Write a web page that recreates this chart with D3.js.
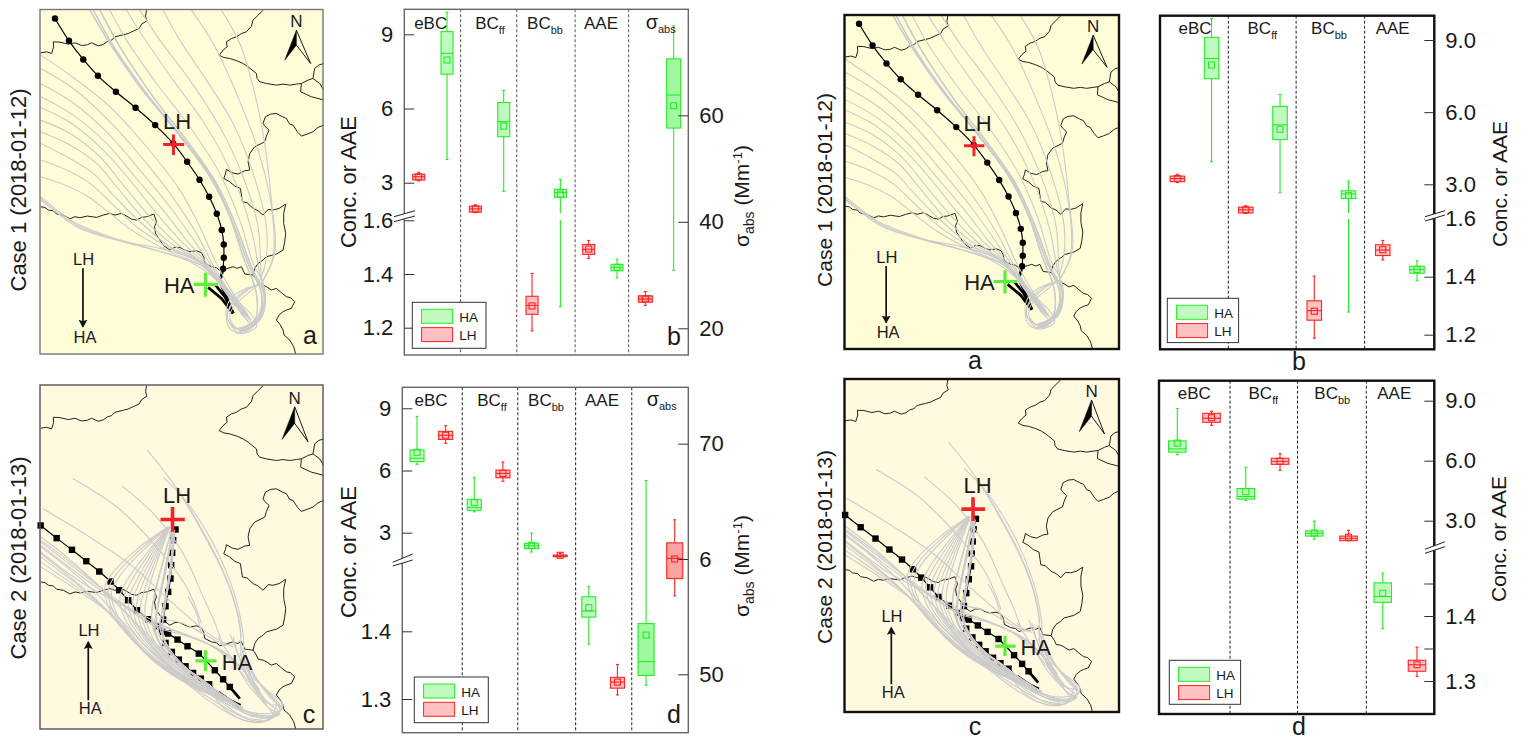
<!DOCTYPE html>
<html>
<head>
<meta charset="utf-8">
<script src="https://cdnjs.cloudflare.com/ajax/libs/d3/7.8.5/d3.min.js"></script>
<style>
	html, body { margin: 0; padding: 0; background: #fff; }
	svg { display: block; }
	text { font-family: "Liberation Sans", Arial, sans-serif; fill: #1a1a1a; }
</style>
</head>
<body>
<div id="chart"></div>
<script>
/*** Data ***/

// each box is [low whisker, q1, median, q3, high whisker, mean], one per group
var groupNames = ["eBC", "BCff", "BCbb", "AAE", "sigma"];
var case1LH = [[3.07, 3.11, 3.24, 3.34, 3.42, 3.24], [1.79, 1.81, 1.94, 2.05, 2.11, 1.94], [1.188, 1.25, 1.283, 1.317, 1.402, 1.281], [1.458, 1.473, 1.492, 1.51, 1.525, 1.493], [24.3, 24.9, 25.5, 26.1, 26.9, 25.5]];
var case1HA = [[3.94, 7.39, 8.23, 9.11, 9.89, 7.96], [2.65, 4.86, 5.47, 6.24, 6.73, 5.29], [1.278, 2.41, 2.6, 2.73, 3.13, 2.54], [1.386, 1.412, 1.425, 1.436, 1.455, 1.425], [30.9, 57.6, 63.8, 70.6, 76.8, 61.8]];
var case2HA = [[6.3, 6.43, 6.59, 6.99, 8.61, 6.88], [4.01, 4.08, 4.21, 4.61, 5.67, 4.45], [2.07, 2.23, 2.37, 2.49, 2.98, 2.39], [1.381, 1.421, 1.43, 1.451, 1.466, 1.435], [49.05, 49.9, 51.1, 54.4, 66.8, 53.4]];
var case2LH = [[7.31, 7.5, 7.7, 7.89, 8.16, 7.7], [5.48, 5.65, 5.86, 6.02, 6.41, 5.86], [1.84, 1.84, 1.89, 1.92, 2.0, 1.91], [1.306, 1.316, 1.325, 1.332, 1.351, 1.325], [56.8, 58.3, 60.06, 61.4, 63.4, 60.0]];
var case2LHAlt = [[7.77, 7.92, 8.12, 8.37, 8.47, 8.15], [5.52, 5.82, 5.97, 6.12, 6.35, 5.97], [2.0, 2.0, 2.12, 2.23, 2.52, 2.17], [1.307, 1.315, 1.325, 1.332, 1.352, 1.325]];

var upperTicks = [3, 6, 9];
var lowerTicksCase1 = [1.2, 1.4, 1.6];
var lowerTicksCase2 = [1.3, 1.4];
var lowerTicksCase2Alt = [1.3, 1.35, 1.4, 1.45];
var sigmaTicksCase1 = [20, 40, 60];
var sigmaTicksCase2 = [50, 60, 70];
var sigmaLabelsCase2 = ["50", "6", "70"];

// map lines (crop px, see mapPanel domains)
var borderLines = [
	[[440,30],[437,48],[441,62],[425,72],[418,85],[400,93],[385,100],[370,104],[345,110],[335,120],[322,124],[310,133],[295,137],[275,128],[262,134],[245,136],[225,128],[205,132],[180,126],[160,125],[161,140],[155,160],[140,155],[122,158]],
	[[122,620],[135,622],[145,630],[160,632],[170,642],[190,645],[210,656],[225,650],[240,653],[262,648],[290,652],[310,645],[330,640],[345,645],[365,640],[380,648],[395,657],[410,660],[425,652],[440,650],[462,642],[470,665],[464,680],[467,700],[480,720],[492,737],[510,750],[525,742],[540,742],[555,750],[570,755],[590,752],[605,758],[612,772],[615,790],[635,800],[650,803],[660,812],[680,806],[700,800],[712,805],[725,800],[735,822],[760,825],[765,805],[775,790],[790,780],[800,770],[830,762],[850,750],[855,725],[858,700],[852,670],[852,640],[858,612],[838,625],[820,630],[805,628],[790,645],[775,632],[760,625],[742,608],[728,605],[725,585],[722,565],[705,558],[690,545],[672,535],[677,522],[680,508],[697,518],[715,522],[735,512],[750,510],[745,485],[750,460],[765,440],[775,435],[795,425],[800,408],[808,390],[795,378],[790,370],[797,350],[812,342],[830,340],[848,350],[860,355],[870,372],[880,375],[893,395],[905,408],[922,402],[940,395],[955,382],[972,375]],
	[[760,825],[770,840],[775,852],[790,855],[800,860],[815,870],[830,865],[845,878],[860,890],[872,893],[885,905],[875,925],[860,930],[850,935],[838,945],[830,960],[842,975],[850,990],[853,1005],[870,1020],[882,1040],[888,1062]],
	[[790,30],[775,45],[760,60],[755,78],[740,95],[725,100],[710,110],[695,115],[680,125],[682,140],[670,150],[658,165],[672,172],[690,175],[712,182],[730,190],[745,200],[770,220],[772,235],[780,245],[800,250],[830,255],[850,252],[870,255],[890,252],[905,250],[925,240],[940,235],[945,205],[957,195],[972,190]],
	[[905,250],[903,275],[920,283],[935,290],[955,295],[972,300]],
	[[940,235],[960,250],[972,270]]
];

var greyCase1 = [
	[[122,165],[210,225],[330,320],[440,440],[540,570],[600,680],[650,790],[700,880],[745,945]],
	[[122,205],[220,265],[340,375],[440,490],[525,600],[590,700],[640,795],[695,885],[750,955]],
	[[122,250],[215,305],[320,395],[420,510],[510,620],[575,710],[630,790],[690,880],[755,960]],
	[[122,290],[220,345],[320,430],[405,530],[490,630],[560,720],[625,795],[690,885],[755,965]],
	[[122,322],[215,370],[310,450],[390,540],[470,640],[545,725],[620,795],[690,890],[750,970]],
	[[122,360],[210,400],[300,470],[370,555],[450,650],[530,730],[615,795],[690,895],[745,965]],
	[[122,395],[210,435],[290,490],[350,560],[430,655],[520,735],[610,790],[680,870],[740,950]],
	[[122,430],[200,470],[280,520],[340,585],[420,665],[510,740],[610,790],[680,875],[735,945]],
	[[122,480],[200,510],[270,550],[335,610],[410,680],[510,745],[610,795],[680,880],[730,945]],
	[[122,530],[195,555],[265,590],[330,640],[410,700],[510,755],[610,800],[675,870],[730,950]],
	[[122,590],[220,665],[330,710],[450,745],[570,785],[650,840],[710,910],[750,960]],
	[[122,600],[240,680],[370,725],[500,760],[610,800],[680,870],[740,945]],
	[[122,595],[230,680],[350,720],[480,745],[600,785],[670,850],[735,940]],
	[[270,30],[330,130],[420,260],[530,395],[630,530],[690,650],[730,770],[770,880],[765,960],[720,985]],
	[[280,30],[345,145],[440,280],[545,410],[640,540],[700,670],[745,790],[785,880],[775,950],[720,990]],
	[[300,30],[360,140],[460,290],[560,420],[650,550],[710,680],[755,800],[795,890],[780,960],[710,1000]],
	[[330,30],[380,120],[470,250],[570,380],[660,520],[720,660],[760,790],[790,850],[796,900],[775,955],[725,990]],
	[[380,30],[430,110],[520,240],[620,380],[700,530],[755,690],[780,820],[795,880],[780,945],[730,985]],
	[[420,30],[480,120],[570,240],[660,380],[730,530],[775,680],[785,830],[797,895],[770,965],[715,985]],
	[[490,30],[540,120],[620,240],[700,370],[760,520],[800,680],[795,800],[775,850]],
	[[575,30],[640,130],[710,280],[775,450],[815,620],[820,770],[785,850]],
	[[665,30],[720,130],[760,260],[790,400],[815,600],[825,760],[785,850]],
	[[785,850],[795,900],[770,965],[720,990],[685,960],[690,920],[730,875],[785,850]],
	[[775,855],[740,865],[690,900],[680,950],[710,985],[750,985],[785,930],[790,860]],
	[[650,830],[700,890],[760,950],[770,980],[720,1000],[690,970]],
	[[790,850],[797,900],[785,945],[750,985],[715,998],[690,985],[680,955],[690,925],[720,890],[760,860],[790,850]],
	[[780,850],[745,880],[705,915],[690,950],[705,980],[735,995],[765,975],[790,925]]
];

var greyCase2 = [
	[[505,470],[420,530],[345,600],[315,650],[330,720],[390,800],[470,880],[570,945],[660,985],[730,1012]],
	[[505,470],[425,535],[355,605],[325,658],[340,725],[400,805],[480,882],[580,948],[670,988],[730,1012]],
	[[505,470],[430,540],[365,610],[335,665],[350,730],[410,810],[490,885],[590,950],[680,990],[730,1012]],
	[[505,470],[440,550],[385,625],[360,680],[375,745],[430,820],[505,890],[600,955],[690,995],[730,1012]],
	[[505,470],[445,555],[395,632],[372,685],[388,750],[440,822],[510,892],[605,958],[730,1012]],
	[[505,470],[450,560],[405,640],[385,690],[400,755],[450,825],[515,895],[610,960],[730,1012]],
	[[505,470],[455,565],[415,645],[398,698],[412,762],[460,832],[522,898],[615,960],[725,1010]],
	[[505,470],[460,570],[425,650],[410,705],[425,770],[470,840],[530,900],[620,960],[720,1010]],
	[[508,470],[465,575],[435,655],[422,715],[438,778],[480,845],[540,902],[630,962],[720,1010]],
	[[510,470],[470,580],[445,660],[435,725],[450,785],[490,850],[550,905],[640,965],[720,1010]],
	[[515,480],[485,590],[465,670],[455,740],[470,800],[510,860],[570,915],[650,970],[720,1010]],
	[[518,480],[500,590],[480,680],[470,755],[490,820],[530,870],[590,920],[660,975]],
	[[520,480],[495,600],[475,700],[465,770],[480,820],[525,875],[600,925],[670,975],[725,1010]],
	[[522,480],[510,600],[495,690],[480,770],[505,830],[545,880],[605,930]],
	[[524,480],[515,590],[500,680],[488,770],[498,825],[535,875],[610,930],[680,985],[725,1012]],
	[[122,500],[200,560],[290,640],[370,720],[450,800],[530,880],[620,950],[710,1010],[790,1030],[845,1015],[800,960],[745,910]],
	[[122,510],[210,575],[300,650],[385,735],[455,815],[540,890],[630,955],[720,1015],[800,1040],[845,1020]],
	[[122,530],[200,590],[280,660],[360,745],[440,830],[530,905],[640,975],[740,1030],[810,1040],[850,1005],[790,950],[740,890]],
	[[122,550],[210,620],[290,690],[370,770],[440,850],[540,920],[650,985],[740,1045],[795,1052],[835,1030]],
	[[122,560],[215,630],[300,700],[375,780],[450,860],[550,930],[640,990],[730,1040],[790,1050]],
	[[122,575],[230,650],[310,710],[380,790],[460,870],[560,940],[640,1000],[720,1045],[790,1055],[840,1020],[780,940],[720,850]],
	[[122,590],[240,665],[330,730],[420,830],[500,890],[620,955],[680,1020],[750,1055],[810,1045],[830,1000]],
	[[122,515],[220,590],[340,680],[460,760],[550,790],[640,830],[700,880],[760,950],[800,1000]],
	[[122,525],[240,615],[360,700],[470,770],[570,800],[660,840],[730,900],[790,980]],
	[[122,545],[250,640],[380,710],[500,770],[600,810],[680,850],[740,910],[780,970]],
	[[440,850],[520,915],[600,950],[680,1000],[760,1040]],
	[[442,240],[520,340],[610,490],[680,630],[720,760],[725,860],[745,920]],
	[[490,322],[560,395],[640,520],[700,660],[730,790],[735,880],[780,960]],
	[[530,350],[590,450],[650,560],[700,680],[725,800]],
	[[367,348],[470,440],[550,550],[610,680],[650,770],[670,830]],
	[[218,325],[350,410],[470,530],[560,650],[605,760]],
	[[128,415],[260,495],[400,590],[520,700],[640,800],[700,830]],
	[[565,680],[590,730],[605,790]],
	[[690,790],[710,840],[745,920],[790,985],[835,1020]],
	[[720,810],[735,870],[770,950],[810,1000],[845,1010],[830,1030],[780,1035],[720,1012]],
	[[700,800],[725,880],[765,960],[810,1015],[840,1030],[800,1045],[740,1030],[700,1005]],
	[[655,800],[700,870],[750,950],[800,1005],[820,1030]],
	[[730,830],[765,915],[815,985],[850,1012]],
	[[480,745],[550,760],[610,790],[680,825],[725,810]]
];

var blackDotsCase1 = [[165,55],[207,122],[250,178],[294,227],[348,275],[407,323],[466,375],[520,430],[562,485],[599,539],[628,590],[651,641],[666,690],[672,733],[672,773],[670,806]];
var blackTailsCase1 = [[[670,806],[660,845],[680,890],[700,940]], [[625,862],[665,895],[700,940]], [[645,852],[675,890],[700,940]]];
var blackSquaresCase2a = [[122,466],[170,504],[216,539],[259,573],[298,604],[332,634],[358,660],[385,690],[412,720],[445,747],[472,768],[505,790],[533,808],[563,828],[597,850],[645,900],[670,927],[690,950]];
var blackSquaresCase2b = [[527,478],[520,510],[517,548],[514,585],[512,625],[505,665],[497,708],[490,748],[487,785],[497,818],[516,845],[537,868],[557,888],[580,908],[603,925],[628,942]];
var blackTailCase2a = [[690,950],[720,985]];
var blackTailsCase2b = [[[628,942],[655,975],[720,1012]], [[655,965],[690,990],[722,1005]]];

/*** Layout ***/

var width = 1524, height = 742;

var svg = d3.select("#chart").append("svg")
	.attr("width", width)
	.attr("height", height);

var arrowDefs = svg.append("defs");
arrowDefs.append("marker")
	.attr("id", "head")
	.attr("viewBox", "0 0 8 12")
	.attr("refX", 7).attr("refY", 6)
	.attr("markerWidth", 8).attr("markerHeight", 12)
	.attr("markerUnits", "userSpaceOnUse")
	.attr("orient", "auto")
	.append("path")
	.attr("d", "M0,1.5L8,6L0,10.5L1.5,6Z")
	.attr("fill", "#111");

/*** Map panels ***/

function mapPanel(o) {
	var g = svg.append("g");
	var xs = d3.scaleLinear().domain([120, 970]).range([o.left, o.right]);
	var yb = d3.scaleLinear().domain([28, 1062]).range([o.top, o.bottom]);
	var ys = d3.scaleLinear().domain(o.yDomain).range([o.top, o.bottom]);
	var line = d3.line().x(function(d) { return xs(d[0]); }).y(function(d) { return ys(d[1]); }).curve(d3.curveCatmullRom.alpha(0.5));
	var straight = d3.line().x(function(d) { return xs(d[0]); }).y(function(d) { return ys(d[1]); });
	var borderLine = d3.line().x(function(d) { return xs(d[0]); }).y(function(d) { return yb(d[1]); });

	g.append("rect")
		.attr("x", o.left).attr("y", o.top)
		.attr("width", o.right - o.left).attr("height", o.bottom - o.top)
		.attr("fill", o.bg);

	g.selectAll("path.border").data(borderLines).enter().append("path")
		.attr("class", "border")
		.attr("d", borderLine)
		.attr("fill", "none").attr("stroke", "#222").attr("stroke-width", 1)
		.attr("stroke-linejoin", "round");

	// black back trajectory goes under the grey ones
	o.blackLines.forEach(function(pts) {
		g.append("path").attr("d", line(pts)).attr("fill", "none").attr("stroke", "#000").attr("stroke-width", 1.2);
	});
	o.tails.forEach(function(pts) {
		g.append("path").attr("d", straight(pts)).attr("fill", "none").attr("stroke", "#000").attr("stroke-width", 2.8);
	});
	if (o.dots) {
		g.selectAll("circle.dot").data(o.dots).enter().append("circle")
			.attr("class", "dot")
			.attr("cx", function(d) { return xs(d[0]); })
			.attr("cy", function(d) { return ys(d[1]); })
			.attr("r", 3.2).attr("fill", "#000");
	}
	if (o.squares) {
		g.selectAll("rect.sq").data(o.squares).enter().append("rect")
			.attr("class", "sq")
			.attr("x", function(d) { return xs(d[0]) - 3.2; })
			.attr("y", function(d) { return ys(d[1]) - 3.2; })
			.attr("width", 6.4).attr("height", 6.4).attr("fill", "#000");
	}

	g.selectAll("path.grey").data(o.grey).enter().append("path")
		.attr("class", "grey")
		.attr("d", line)
		.attr("fill", "none").attr("stroke", "#cbcbcb").attr("stroke-width", 1.1);

	// bundle along the ridge is heavier in the original
	o.grey.slice(o.heavy[0], o.heavy[1]).forEach(function(pts) {
		g.append("path").attr("d", line(pts)).attr("fill", "none").attr("stroke", "#cbcbcb").attr("stroke-width", 1.4);
	});

	g.append("rect")
		.attr("x", o.left).attr("y", o.top)
		.attr("width", o.right - o.left).attr("height", o.bottom - o.top)
		.attr("fill", "none").attr("stroke", o.frame).attr("stroke-width", o.frameW);

	// north arrow
	var n = o.north;
	g.append("path")
		.attr("d", straight([n.tip, n.leftPt, n.mid]) + "Z")
		.attr("fill", "#000").attr("stroke", "#000").attr("stroke-width", 0.5);
	g.append("path")
		.attr("d", straight([n.tip, n.rightPt, n.mid]))
		.attr("fill", "none").attr("stroke", "#000").attr("stroke-width", 0.9);
	g.append("text")
		.attr("x", xs(n.tip[0])).attr("y", ys(n.tip[1]) - 3)
		.attr("text-anchor", "middle").attr("font-size", 17).text("N");

	// site crosses
	o.crosses.forEach(function(c) {
		g.append("path")
			.attr("d", "M" + xs(c.x0) + "," + ys(c.y) + "H" + xs(c.x1) + "M" + xs(c.x) + "," + ys(c.y0) + "V" + ys(c.y1))
			.attr("stroke", c.color).attr("stroke-width", c.w).attr("fill", "none");
	});

	o.siteLabels.forEach(function(s) {
		g.append("text").attr("x", xs(s[1])).attr("y", ys(s[2]))
			.attr("text-anchor", "middle").attr("font-size", 22).text(s[0]);
	});

	// small direction arrow
	g.append("line")
		.attr("x1", xs(o.arrow[0])).attr("y1", ys(o.arrow[1]))
		.attr("x2", xs(o.arrow[0])).attr("y2", ys(o.arrow[2]))
		.attr("stroke", "#111").attr("stroke-width", 1.7)
		.attr("marker-end", "url(#head)");
	o.arrowLabels.forEach(function(s) {
		g.append("text").attr("x", xs(s[1])).attr("y", ys(s[2]))
			.attr("text-anchor", "middle").attr("font-size", 16.5).text(s[0]);
	});

	g.append("text")
		.attr("transform", "translate(" + o.caseX + "," + o.caseY + ") rotate(-90)")
		.attr("text-anchor", "middle").attr("font-size", o.caseSize).text(o.caseLabel);

	g.append("text")
		.attr("x", o.letter[1]).attr("y", o.letter[2])
		.attr("text-anchor", "middle").attr("font-size", 25).text(o.letter[0]);
}

var case1Map = {
	yDomain: [28, 1062], bg: "#fffdd8",
	blackLines: [blackDotsCase1], tails: blackTailsCase1, dots: blackDotsCase1,
	grey: greyCase1, heavy: [13, 16],
	north: { tip: [890,90], leftPt: [855,180], mid: [890,135], rightPt: [933,190] },
	crosses: [
		{ x: 521, y: 433, x0: 490, x1: 553, y0: 403, y1: 465, color: "#f5222a", w: 3 },
		{ x: 617, y: 853, x0: 582, x1: 655, y0: 818, y1: 890, color: "#5cf03c", w: 3.2 }
	],
	siteLabels: [["LH", 532, 388], ["HA", 538, 880]],
	arrow: [249, 805, 980],
	arrowLabels: [["LH", 251, 795], ["HA", 255, 1028]],
	caseLabel: "Case 1 (2018-01-12)"
};
var case2Map = {
	yDomain: [45, 1076], bg: "#fff9e0",
	blackLines: [blackSquaresCase2a, blackSquaresCase2b], tails: blackTailsCase2b.concat([blackTailCase2a]), squares: blackSquaresCase2a.concat(blackSquaresCase2b),
	grey: greyCase2, heavy: [10, 15],
	north: { tip: [885,110], leftPt: [847,208], mid: [885,160], rightPt: [925,215] },
	crosses: [
		{ x: 518, y: 448, x0: 482, x1: 555, y0: 411, y1: 485, color: "#f5222a", w: 3.6 },
		{ x: 617, y: 872, x0: 587, x1: 650, y0: 840, y1: 903, color: "#5cf03c", w: 3.2 }
	],
	siteLabels: [["LH", 532, 398], ["HA", 712, 900]],
	arrow: [265, 990, 815],
	arrowLabels: [["LH", 267, 798], ["HA", 271, 1032]],
	caseLabel: "Case 2 (2018-01-13)"
};

mapPanel(Object.assign({}, case1Map, { left: 40, right: 323, top: 9.5, bottom: 354, frame: "#777", frameW: 1.4, caseX: 26, caseY: 190, caseSize: 22, letter: ["a", 310, 344] }));
mapPanel(Object.assign({}, case2Map, { left: 40, right: 323, top: 385, bottom: 729, frame: "#555", frameW: 1.4, caseX: 26, caseY: 558, caseSize: 22, letter: ["c", 309, 723] }));
mapPanel(Object.assign({}, case1Map, { left: 844.5, right: 1119, top: 15, bottom: 349, frame: "#111", frameW: 2.4, caseX: 832, caseY: 190, caseSize: 21, letter: ["a", 975, 369] }));
mapPanel(Object.assign({}, case2Map, { left: 844.5, right: 1119, top: 379, bottom: 712, frame: "#111", frameW: 2.4, caseX: 832, caseY: 547, caseSize: 21, letter: ["c", 975, 735] }));

/*** Box panels ***/

var haColor = "#22ee22", lhColor = "#ff2222";

function groupLabel(g, name, x, y) {
	var t = g.append("text").attr("x", x).attr("y", y).attr("text-anchor", "middle").attr("font-size", 17);
	if (name == "eBC" || name == "AAE") {
		t.text(name);
	} else if (name == "sigma") {
		t.append("tspan").attr("font-size", 20).text("σ");
		t.append("tspan").attr("font-size", 11).attr("dy", 4).text("abs");
	} else {
		t.append("tspan").text("BC");
		t.append("tspan").attr("font-size", 11).attr("dy", 5).text(name.slice(2));
	}
}

function boxPanel(o) {
	var g = svg.append("g");
	var nSlots = o.series[0].values.length * 2 - 1;
	var x = d3.scaleLinear().domain([0, nSlots]).range(o.xRange);
	var upper = d3.scaleLinear().domain([3, 9]).range(o.upperRange);
	var lower = d3.scaleLinear().domain(o.lowerDomain).range(o.lowerRange);
	var sigma = o.sigmaRange ? d3.scaleLinear().domain(o.sigmaDomain).range(o.sigmaRange) : null;

	function yConc(v) { return v > 1.7 ? upper(v) : lower(v); }

	g.append("rect")
		.attr("x", o.left).attr("y", o.top)
		.attr("width", o.right - o.left).attr("height", o.bottom - o.top)
		.attr("fill", "#fff");

	// group separators
	g.selectAll("line.sep").data(o.dividers).enter().append("line")
		.attr("class", "sep")
		.attr("x1", function(d) { return x(d); }).attr("x2", function(d) { return x(d); })
		.attr("y1", o.top).attr("y2", o.bottom)
		.attr("stroke", o.sepColor).attr("stroke-width", 1).attr("stroke-dasharray", "3,2");

	o.series.forEach(function(s, si) {
		var color = s.name == "HA" ? haColor : lhColor;
		s.values.forEach(function(b, i) {
			var isSigma = groupNames[i] == "sigma";
			var y = isSigma ? sigma : yConc;
			var cx = x(i * 2 + si);
			var bw = isSigma ? o.boxW + 2 : o.boxW;
			var bg = g.append("g").attr("stroke", color).attr("stroke-width", 1.1).attr("fill", "none");

			// whisker that crosses the axis break gets cut in two
			if (!isSigma && b[0] < 1.7 && b[1] > 1.7) {
				bg.append("line").attr("x1", cx).attr("x2", cx).attr("y1", y(b[1])).attr("y2", o.breakTop);
				bg.append("line").attr("x1", cx).attr("x2", cx).attr("y1", o.breakBottom).attr("y2", y(b[0]));
			} else {
				bg.append("line").attr("x1", cx).attr("x2", cx).attr("y1", y(b[1])).attr("y2", y(b[0]));
			}
			bg.append("line").attr("x1", cx).attr("x2", cx).attr("y1", y(b[3])).attr("y2", y(b[4]));
			[b[0], b[4]].forEach(function(v) {
				bg.append("line").attr("x1", cx - 1.5).attr("x2", cx + 1.5).attr("y1", y(v)).attr("y2", y(v));
			});
			bg.append("rect")
				.attr("x", cx - bw / 2).attr("y", y(b[3]))
				.attr("width", bw).attr("height", Math.max(y(b[1]) - y(b[3]), 1))
				.attr("fill", color).attr("fill-opacity", isSigma ? 0.42 : 0.28);
			bg.append("line").attr("x1", cx - bw / 2).attr("x2", cx + bw / 2).attr("y1", y(b[2])).attr("y2", y(b[2]));
			bg.append("rect")
				.attr("x", cx - 3).attr("y", y(b[5]) - 3)
				.attr("width", 6).attr("height", 6);
		});
	});

	// frame
	g.append("rect")
		.attr("x", o.left).attr("y", o.top)
		.attr("width", o.right - o.left).attr("height", o.bottom - o.top)
		.attr("fill", "none").attr("stroke", o.frame).attr("stroke-width", o.frameW);

	// axes, ticks point into the frame
	var concFmt = d3.format("d"), lowFmt = d3.format(".1f");
	var axisMaker = o.concRight ? d3.axisRight : d3.axisLeft;
	var axisX = o.concRight ? o.right : o.left;
	var upAxis = axisMaker(upper).tickValues(upperTicks).tickSizeInner(-10).tickSizeOuter(0).tickPadding(11)
		.tickFormat(o.concRight ? lowFmt : concFmt);
	var lowAxis = axisMaker(lower).tickValues(o.lowerTicks).tickSizeInner(-10).tickSizeOuter(0).tickPadding(11)
		.tickFormat(function(d) { return o.hiddenLabels.indexOf(d) >= 0 ? "" : lowFmt(d); });
	[upAxis, lowAxis].forEach(function(a) {
		var ag = g.append("g").attr("transform", "translate(" + axisX + ",0)").call(a);
		ag.select(".domain").remove();
		ag.selectAll("line").attr("stroke", "#333");
		ag.selectAll("text").attr("font-size", 22).attr("font-family", "Liberation Sans").attr("fill", "#1a1a1a");
	});
	if (sigma) {
		var sAxis = d3.axisRight(sigma).tickValues(o.sigmaTicks).tickSizeInner(-10).tickSizeOuter(0).tickPadding(11);
		if (o.sigmaLabels) sAxis.tickFormat(function(d, i) { return o.sigmaLabels[i]; });
		var sg = g.append("g").attr("transform", "translate(" + o.right + ",0)").call(sAxis);
		sg.select(".domain").remove();
		sg.selectAll("line").attr("stroke", "#333");
		sg.selectAll("text").attr("font-size", 22).attr("font-family", "Liberation Sans").attr("fill", "#1a1a1a");
	}

	// axis break marks
	var b = o.slash;
	g.append("path")
		.attr("d", "M" + b[0] + "," + b[1] + "L" + b[2] + "," + b[3] + "L" + b[2] + "," + b[5] + "L" + b[0] + "," + b[4] + "Z")
		.attr("fill", "#fff");
	g.append("path")
		.attr("d", "M" + b[0] + "," + b[1] + "L" + b[2] + "," + b[3] + "M" + b[0] + "," + b[4] + "L" + b[2] + "," + b[5])
		.attr("stroke", "#222").attr("stroke-width", 1).attr("fill", "none");

	// axis titles
	g.append("text")
		.attr("transform", "translate(" + o.concTitle[0] + "," + o.concTitle[1] + ") rotate(-90)")
		.attr("text-anchor", "middle").attr("font-size", o.concTitle[2]).text("Conc. or AAE");
	if (sigma) {
		var st = g.append("text")
			.attr("transform", "translate(" + o.sigmaTitle[0] + "," + o.sigmaTitle[1] + ") rotate(-90)")
			.attr("font-size", 21);
		st.append("tspan").text("σ");
		st.append("tspan").attr("font-size", 14).attr("dy", 5).text("abs");
		st.append("tspan").attr("dy", -5).text(" (Mm");
		st.append("tspan").attr("font-size", 13).attr("dy", -7).text("-1");
		st.append("tspan").attr("dy", 7).text(")");
	}

	// group names
	o.labels.forEach(function(l, i) {
		groupLabel(g, groupNames[i], l, o.labelY);
	});

	// legend
	var lg = g.append("g").attr("transform", "translate(" + o.legend[0] + "," + o.legend[1] + ")");
	lg.append("rect").attr("width", o.legend[2]).attr("height", o.legend[3])
		.attr("fill", "#fff").attr("stroke", "#333").attr("stroke-width", 1);
	[["HA", haColor, 7], ["LH", lhColor, 25.3]].forEach(function(e) {
		lg.append("rect").attr("x", 9.3).attr("y", e[2]).attr("width", 31).attr("height", 14)
			.attr("fill", e[1]).attr("fill-opacity", 0.28).attr("stroke", e[1]);
		lg.append("text").attr("x", 47).attr("y", e[2] + 12.5).attr("font-size", 13.5).text(e[0]);
	});

	g.append("text")
		.attr("x", o.letter[1]).attr("y", o.letter[2])
		.attr("text-anchor", "middle").attr("font-size", 25).text(o.letter[0]);
}

boxPanel({
	left: 404.3, right: 688.3, top: 9.3, bottom: 355, frame: "#666", frameW: 1.4, sepColor: "#555",
	series: [{ name: "LH", values: case1LH }, { name: "HA", values: case1HA }],
	xRange: [418.7, 673.7], boxW: 12,
	dividers: [1.48, 3.46, 5.52, 7.41],
	upperRange: [182.7, 34.3], lowerDomain: [1.2, 1.4], lowerRange: [327.7, 274],
	lowerTicks: lowerTicksCase1, hiddenLabels: [],
	sigmaDomain: [20, 60], sigmaRange: [328.3, 115.3], sigmaTicks: sigmaTicksCase1,
	breakTop: 213.3, breakBottom: 220,
	slash: [394, 216.7, 415, 210.7, 221.7, 216],
	concTitle: [356, 182, 22], sigmaTitle: [749, 247],
	labels: [430.7, 490, 545, 601, 660.7], labelY: 29.3,
	legend: [412.3, 302.3, 73.7, 46], letter: ["b", 674, 345]
});
boxPanel({
	left: 402.3, right: 688.3, top: 387.3, bottom: 732.7, frame: "#666", frameW: 1.4, sepColor: "#222",
	series: [{ name: "HA", values: case2HA }, { name: "LH", values: case2LH }],
	xRange: [417, 674.7], boxW: 14,
	dividers: [1.58, 3.52, 5.54, 7.5],
	upperRange: [532.7, 408.3], lowerDomain: [1.3, 1.4], lowerRange: [699, 631.3],
	lowerTicks: lowerTicksCase2, hiddenLabels: [],
	sigmaDomain: [50, 70], sigmaRange: [674.3, 443.7], sigmaTicks: sigmaTicksCase2, sigmaLabels: sigmaLabelsCase2,
	breakTop: 557, breakBottom: 562,
	slash: [392.7, 562.3, 412.7, 554, 566, 560],
	concTitle: [356, 552, 22], sigmaTitle: [749, 617],
	labels: [431, 492, 546, 602, 661.7], labelY: 406,
	legend: [414.3, 677, 74, 45.7], letter: ["d", 674, 723]
});
boxPanel({
	left: 1160, right: 1434.3, top: 15.7, bottom: 349.3, frame: "#111", frameW: 2.4, sepColor: "#222",
	series: [{ name: "LH", values: case1LH.slice(0, 4) }, { name: "HA", values: case1HA.slice(0, 4) }],
	xRange: [1177.3, 1417], boxW: 14.5,
	dividers: [1.49, 3.47, 5.47],
	upperRange: [184.3, 40], lowerDomain: [1.2, 1.4], lowerRange: [334.7, 276.7],
	lowerTicks: lowerTicksCase1, hiddenLabels: [], concRight: true,
	breakTop: 213, breakBottom: 219,
	slash: [1425, 216.7, 1445, 210.7, 221, 215],
	concTitle: [1507, 184, 21],
	labels: [1195, 1262.3, 1329, 1392.7], labelY: 34.3,
	legend: [1167.3, 298.3, 71.3, 44.3], letter: ["b", 1299, 370]
});
boxPanel({
	left: 1159, right: 1434.3, top: 380.7, bottom: 714, frame: "#111", frameW: 2.4, sepColor: "#222",
	series: [{ name: "HA", values: case2HA.slice(0, 4) }, { name: "LH", values: case2LHAlt }],
	xRange: [1177.3, 1417], boxW: 17.5,
	dividers: [1.54, 3.51, 5.52],
	upperRange: [520.7, 400.7], lowerDomain: [1.3, 1.4], lowerRange: [681, 616],
	lowerTicks: lowerTicksCase2Alt, hiddenLabels: [1.35, 1.45], concRight: true,
	breakTop: 544, breakBottom: 549,
	slash: [1425, 549.3, 1445, 541.7, 553.3, 546.7],
	concTitle: [1506, 539, 21],
	labels: [1194.3, 1263.3, 1332.3, 1394.3], labelY: 399,
	legend: [1169.3, 660.3, 71.3, 44], letter: ["d", 1299, 735]
});
</script>
</body>
</html>
